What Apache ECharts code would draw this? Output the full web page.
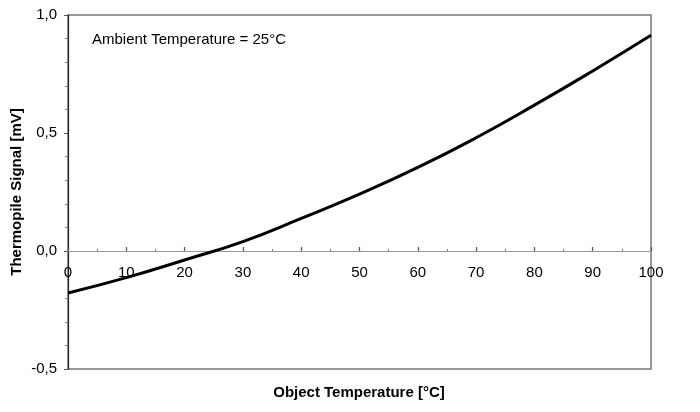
<!DOCTYPE html>
<html>
<head>
<meta charset="utf-8">
<script src="https://cdn.jsdelivr.net/npm/echarts@6/dist/echarts.min.js"></script>
<style>
html,body{margin:0;padding:0;background:#fff;}
#chart{width:700px;height:412px;}
</style>
</head>
<body>
<div id="chart"></div>
<script>
const objectTemps = [0, 10, 20, 30, 40, 50, 60, 70, 80, 90, 100];
const signalMV = [-0.178, -0.113, -0.038, 0.040, 0.138, 0.241, 0.354, 0.480, 0.618, 0.763, 0.914];
const yTicks = [-0.5, 0, 0.5, 1.0];
const xLabel = 'Object Temperature [°C]';
const yLabel = 'Thermopile Signal [mV]';
const note = 'Ambient Temperature = 25°C';

const font = '"Liberation Sans", Arial, Helvetica, sans-serif';
const chart = echarts.init(document.getElementById('chart'), null, {renderer: 'canvas'});
chart.setOption({
  animation: false,
  backgroundColor: '#fff',
  grid: {left: 68, right: 49, top: 15, bottom: 43, show: true, borderColor: '#777', borderWidth: 1.5},
  xAxis: {
    type: 'value', min: 0, max: 100, interval: 10,
    position: 'bottom',
    offset: -118,
    axisLine: {onZero: false, lineStyle: {color: '#999', width: 1.2}},
    axisTick: {inside: true, length: 4, lineStyle: {color: '#555', width: 1.2}},
    minorTick: {show: true, splitNumber: 2, length: 2, lineStyle: {color: '#777'}},
    axisLabel: {color: '#000', fontSize: 15, fontFamily: font, margin: 14},
    splitLine: {show: false}
  },
  yAxis: {
    type: 'value', min: yTicks[0], max: yTicks[yTicks.length - 1], interval: 0.5,
    axisLine: {show: true, onZero: false, lineStyle: {color: '#222', width: 1.2}},
    axisTick: {show: true, inside: false, length: 4, lineStyle: {color: '#555'}},
    minorTick: {show: true, splitNumber: 5, length: 3, lineStyle: {color: '#777'}},
    axisLabel: {color: '#000', fontSize: 15, fontFamily: font, margin: 11,
      formatter: v => v.toFixed(1).replace('.', ',')},
    splitLine: {show: false}
  },
  series: [{
    type: 'line',
    data: objectTemps.map((t, i) => [t, signalMV[i]]),
    smooth: true,
    showSymbol: false,
    lineStyle: {color: '#000', width: 3},
    z: 5
  }],
  graphic: [
    {type: 'text', left: 92, top: 32, style: {text: note, fontSize: 15, fontFamily: font, fill: '#000'}},
    {type: 'text', x: 359, y: 393, style: {text: xLabel, fontSize: 15, fontWeight: 'bold', fontFamily: font, fill: '#000', align: 'center', verticalAlign: 'middle'}},
    {type: 'text', x: 17, y: 192, rotation: Math.PI / 2, style: {text: yLabel, fontSize: 15, fontWeight: 'bold', fontFamily: font, fill: '#000', align: 'center', verticalAlign: 'middle'}}
  ]
});
</script>
</body>
</html>
